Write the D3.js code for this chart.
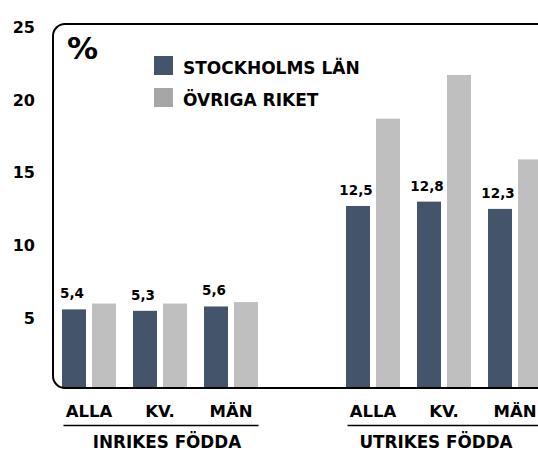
<!DOCTYPE html>
<html>
<head>
<meta charset="utf-8">
<script src="https://cdn.jsdelivr.net/npm/d3@7"></script>
<style>
  body { margin: 0; background: #fff; }
  text { font-family: "DejaVu Sans", sans-serif; font-weight: bold; fill: #000; }
</style>
</head>
<body>
<div class="chart"></div>
<script>
// data
var categories = ["ALLA", "KV.", "MÄN"];
var groups = ["INRIKES FÖDDA", "UTRIKES FÖDDA"];
var seriesNames = ["STOCKHOLMS LÄN", "ÖVRIGA RIKET"];
var stockholm = [5.4, 5.3, 5.6, 12.5, 12.8, 12.3];
var ovriga = [5.8, 5.8, 5.9, 18.5, 21.5, 15.7];
var yTicks = [5, 10, 15, 20, 25];

var svgWidth = 538;
var svgHeight = 453;

var svg = d3.select(".chart")
  .append("svg")
  .attr("width", svgWidth)
  .attr("height", svgHeight);

// 7 slots: 3 categories, one empty slot, 3 categories (last one runs off the edge)
var slots = [0, 1, 2, 3, 4, 5, 6];
var slotOf = function (g, c) { return g * 4 + c; };

var x = d3.scaleBand()
  .domain(slots)
  .range([53.5, 550.5])
  .padding(0);

var xSub = d3.scaleBand()
  .domain([0, 1])
  .range([8.5, x.bandwidth() - 8.5])
  .paddingInner(0.2);

var y = d3.scaleLinear()
  .domain([0, 25])
  .range([388, 24]);

var colors = ["#44546a", "#bfbfbf"];
var legendColors = ["#44546a", "#a6a6a6"];

// flatten into rows for bars
var rows = [];
groups.forEach(function (g, gi) {
  categories.forEach(function (c, ci) {
    var i = gi * categories.length + ci;
    rows.push({ slot: slotOf(gi, ci), s: 0, value: stockholm[i] });
    rows.push({ slot: slotOf(gi, ci), s: 1, value: ovriga[i] });
  });
});

svg.append("g")
  .selectAll("rect")
  .data(rows)
  .enter()
  .append("rect")
  .attr("x", d => x(d.slot) + xSub(d.s))
  .attr("y", d => y(d.value))
  .attr("width", xSub.bandwidth())
  .attr("height", d => y(0) - y(d.value))
  .attr("fill", d => colors[d.s]);

// value labels for Stockholm only
svg.append("g")
  .selectAll("text")
  .data(rows.filter(d => d.s === 0))
  .enter()
  .append("text")
  .attr("x", d => x(d.slot) + xSub(0) + xSub.bandwidth() / 2 - 2)
  .attr("y", d => y(d.value) - 11)
  .attr("text-anchor", "middle")
  .style("font-size", "13.5px")
  .text(d => d3.format(".1f")(d.value).replace(".", ","));

// rounded frame (left, top, bottom)
svg.append("rect")
  .attr("x", 53)
  .attr("y", y(25))
  .attr("width", 600)
  .attr("height", y(0) - y(25))
  .attr("rx", 12)
  .attr("fill", "none")
  .attr("stroke", "#000")
  .attr("stroke-width", 2);

// y axis labels
var yAxis = svg.append("g")
  .attr("transform", "translate(53,0)")
  .call(d3.axisLeft(y).tickValues(yTicks).tickSize(0).tickPadding(18));
yAxis.select(".domain").remove();
yAxis.selectAll("text")
  .attr("dy", "0.52em")
  .style("font-size", "16px")
  .style("font-family", "DejaVu Sans")
  .style("font-weight", "bold")
  .attr("fill", "#000");

// % sign
svg.append("text")
  .attr("x", 67)
  .attr("y", 59)
  .style("font-size", "31px")
  .text("%");

// legend
var legend = svg.append("g")
  .selectAll("g")
  .data(seriesNames)
  .enter()
  .append("g")
  .attr("transform", (d, i) => `translate(154, ${56 + i * 32})`);

legend.append("rect")
  .attr("width", 19)
  .attr("height", 19)
  .attr("fill", (d, i) => legendColors[i]);

legend.append("text")
  .attr("x", 29)
  .attr("y", 18)
  .style("font-size", "17px")
  .text(d => d);

// category labels
var catLabels = [];
groups.forEach(function (g, gi) {
  categories.forEach(function (c, ci) {
    catLabels.push({ slot: slotOf(gi, ci), label: c });
  });
});

svg.append("g")
  .selectAll("text")
  .data(catLabels)
  .enter()
  .append("text")
  .attr("x", d => x(d.slot) + x.bandwidth() / 2)
  .attr("y", 417)
  .attr("text-anchor", "middle")
  .style("font-size", "16.5px")
  .text(d => d.label);

// group lines and labels
var groupOffsets = [7, -8];
var grp = svg.append("g")
  .selectAll("g")
  .data(groups)
  .enter()
  .append("g");

grp.append("line")
  .attr("x1", (d, gi) => x(slotOf(gi, 0)) + 10)
  .attr("x2", (d, gi) => x(slotOf(gi, 2)) + x.bandwidth() - 8)
  .attr("y1", 425.5)
  .attr("y2", 425.5)
  .attr("stroke", "#000")
  .attr("stroke-width", 1.5);

grp.append("text")
  .attr("x", (d, gi) => (x(slotOf(gi, 0)) + x(slotOf(gi, 2)) + x.bandwidth()) / 2 + groupOffsets[gi])
  .attr("y", 448)
  .attr("text-anchor", "middle")
  .style("font-size", "16.8px")
  .text(d => d);
</script>
</body>
</html>
